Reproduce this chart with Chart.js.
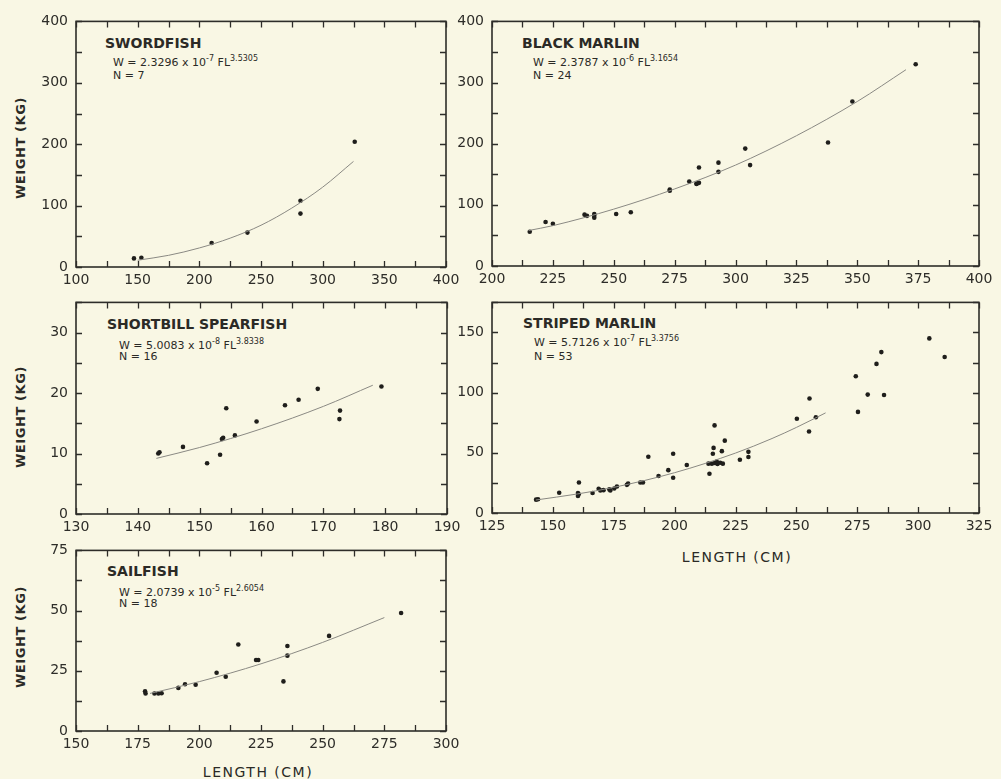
<!DOCTYPE html>
<html>
<head>
<meta charset="utf-8">
<script src="https://cdn.jsdelivr.net/npm/chart.js@4.4.0/dist/chart.umd.min.js"></script>
<style>
  body { margin: 0; background: #f9f7e4; width: 1001px; height: 779px; position: relative; overflow: hidden;
         font-family: "DejaVu Sans", sans-serif; color: #2b2a26; }
  canvas { position: absolute; }
  .title { position: absolute; font-weight: bold; font-size: 14px; line-height: 14px; white-space: nowrap; }
  .eq { position: absolute; font-size: 11px; line-height: 11px; white-space: nowrap; }
  .eq sup { font-size: 8px; vertical-align: 5px; line-height: 0; }
  .ylab { position: absolute; font-weight: bold; font-size: 13px; white-space: nowrap; letter-spacing: 0.6px;
          transform: translate(-50%, -50%) rotate(-90deg); }
  .xlab { position: absolute; font-size: 14px; white-space: nowrap; letter-spacing: 1.5px; transform: translate(-50%, -50%); }
</style>
</head>
<body>

<div class="title" style="left:105px; top:36px;">SWORDFISH</div>
<div class="eq" style="left:113px; top:57px;">W = 2.3296 x 10<sup>-7</sup> FL<sup>3.5305</sup></div>
<div class="eq" style="left:113px; top:70px;">N = 7</div>

<div class="title" style="left:522px; top:36px;">BLACK MARLIN</div>
<div class="eq" style="left:533px; top:57px;">W = 2.3787 x 10<sup>-6</sup> FL<sup>3.1654</sup></div>
<div class="eq" style="left:533px; top:70px;">N = 24</div>

<div class="title" style="left:107px; top:317px;">SHORTBILL SPEARFISH</div>
<div class="eq" style="left:119px; top:340px;">W = 5.0083 x 10<sup>-8</sup> FL<sup>3.8338</sup></div>
<div class="eq" style="left:119px; top:351px;">N = 16</div>

<div class="title" style="left:523px; top:316px;">STRIPED MARLIN</div>
<div class="eq" style="left:534px; top:337px;">W = 5.7126 x 10<sup>-7</sup> FL<sup>3.3756</sup></div>
<div class="eq" style="left:534px; top:351px;">N = 53</div>

<div class="title" style="left:107px; top:564px;">SAILFISH</div>
<div class="eq" style="left:119px; top:587px;">W = 2.0739 x 10<sup>-5</sup> FL<sup>2.6054</sup></div>
<div class="eq" style="left:119px; top:598px;">N = 18</div>

<div class="ylab" style="left:20px; top:148px;">WEIGHT (KG)</div>
<div class="ylab" style="left:20px; top:417px;">WEIGHT (KG)</div>
<div class="ylab" style="left:20px; top:637px;">WEIGHT (KG)</div>
<div class="xlab" style="left:737px; top:557px;">LENGTH (CM)</div>
<div class="xlab" style="left:258px; top:772px;">LENGTH (CM)</div>

<script>
// data: fork length (cm) vs weight (kg)
const swordLen = [147, 153, 210, 239, 282, 282, 326];
const swordWt = [14, 15, 39, 56, 108, 87, 204];
const swordFitLen = [150, 175, 200, 225, 250, 275, 300, 325];
const swordFitWt = [11, 19, 31, 47, 68, 96, 130, 172];

const blackLen = [215.5, 222, 225, 238, 239, 242, 242, 242, 251, 257, 273, 273, 281, 284, 284, 285, 285, 293, 293, 304, 306, 338, 348, 374];
const blackWt = [56, 72, 69, 84, 82, 85, 79, 82, 85, 88, 123, 125, 138, 135, 134, 136, 161, 169, 154, 192, 165, 202, 269, 330];
const blackFitLen = [215, 225, 250, 275, 300, 325, 350, 370];
const blackFitWt = [58, 66, 93, 126, 165, 213, 269, 321];

const spearLen = [143.3, 143.5, 147.3, 151.2, 153.3, 153.6, 153.8, 154.3, 155.7, 159.2, 163.8, 166.0, 169.1, 172.6, 172.7, 179.4];
const spearWt = [10.0, 10.2, 11.1, 8.4, 9.8, 12.4, 12.6, 17.5, 13.0, 15.3, 18.0, 18.9, 20.7, 15.7, 17.1, 21.1];
const spearFitLen = [143, 150, 160, 170, 178];
const spearFitWt = [9.2, 11.0, 14.1, 17.8, 21.3];

const stripedLen = [143.1, 143.9, 152.6, 160.7, 160.3, 160.3, 160.6, 166.3, 168.8, 169.5, 170.8, 173.2, 173.6, 175.2, 176.3,
  180.4, 180.9, 185.9, 187.0, 189.2, 193.4, 197.4, 199.4, 199.4, 205.0, 214.3, 213.9, 215.3, 216.0, 215.7, 216.4, 216.5,
  217.3, 217.6, 218.7, 219.4, 219.8, 220.6, 226.8, 230.3, 230.3, 250.2, 255.4, 255.2, 258.0, 274.4, 275.3, 279.3, 282.9,
  284.9, 286.0, 304.6, 310.9];
const stripedWt = [11.1, 11.4, 16.8, 25.3, 16.6, 14.1, 15.5, 16.6, 20.1, 18.8, 19.0, 19.6, 18.8, 20.4, 22.0,
  23.4, 24.5, 25.3, 25.3, 46.7, 30.7, 35.6, 49.2, 29.3, 39.9, 32.6, 41.0, 41.0, 54.1, 49.2, 72.8, 41.5,
  42.7, 40.8, 41.8, 51.4, 41.0, 60.1, 44.3, 50.8, 46.5, 78.3, 95.1, 67.7, 79.6, 113.6, 84.0, 98.4, 123.9,
  133.7, 98.1, 145.1, 129.6];
const stripedFitLen = [143, 160, 175, 200, 225, 240, 250, 262];
const stripedFitWt = [10.8, 15.8, 21.3, 33.5, 49.8, 61.9, 71.1, 83.2];

const sailLen = [178.0, 178.2, 181.8, 183.4, 184.7, 191.5, 194.2, 198.5, 207.0, 210.7, 215.8, 223.0, 223.9, 234.1, 235.7, 235.7, 252.6, 281.8];
const sailWt = [16.5, 15.6, 15.6, 15.6, 15.7, 17.9, 19.4, 19.2, 24.2, 22.5, 35.9, 29.5, 29.5, 20.6, 35.3, 31.3, 39.5, 49.0];
const sailFitLen = [180, 200, 225, 250, 275];
const sailFitWt = [15.6, 20.5, 27.9, 36.8, 47.1];

const ink = '#2e2d29';

// frame + inward ticks on all four sides
const frameTicks = {
  id: 'frameTicks',
  afterDraw(chart) {
    const ctx = chart.ctx, a = chart.chartArea;
    const xs = chart.scales.x, ys = chart.scales.y;
    ctx.save();
    ctx.strokeStyle = ink;
    ctx.lineWidth = 1.6;
    ctx.strokeRect(a.left, a.top, a.right - a.left, a.bottom - a.top);
    ctx.lineWidth = 1.3;
    ctx.beginPath();
    xs.ticks.forEach(t => {
      const px = Math.round(xs.getPixelForValue(t.value)) + 0.5;
      ctx.moveTo(px, a.bottom); ctx.lineTo(px, a.bottom - 6);
      ctx.moveTo(px, a.top); ctx.lineTo(px, a.top + 6);
    });
    ys.ticks.forEach(t => {
      const py = Math.round(ys.getPixelForValue(t.value)) + 0.5;
      ctx.moveTo(a.left, py); ctx.lineTo(a.left + 6, py);
      ctx.moveTo(a.right, py); ctx.lineTo(a.right - 6, py);
    });
    ctx.stroke();
    ctx.restore();
  }
};

function pts(xs, ys) {
  return xs.map((x, i) => ({ x: x, y: ys[i] }));
}

const padL = 70, padT = 12, padR = 20, padB = 28;

function makePanel(p) {
  const c = document.createElement('canvas');
  const w = p.right - p.left + padL + padR;
  const h = p.bottom - p.top + padT + padB;
  c.width = w; c.height = h;
  c.style.left = (p.left - padL) + 'px';
  c.style.top = (p.top - padT) + 'px';
  document.body.appendChild(c);

  const tickFont = { family: 'DejaVu Sans', size: 14 };
  new Chart(c, {
    type: 'scatter',
    data: {
      datasets: [
        {
          data: pts(p.fitX, p.fitY),
          showLine: true,
          borderColor: '#8a8983',
          borderWidth: 1,
          pointRadius: 0,
          cubicInterpolationMode: 'monotone'
        },
        {
          data: pts(p.x, p.y),
          backgroundColor: '#1f1e1b',
          borderColor: '#1f1e1b',
          pointRadius: 2.3,
          borderWidth: 0
        }
      ]
    },
    options: {
      responsive: false,
      animation: false,
      layout: { padding: { left: 0, top: padT, right: padR, bottom: 0 } },
      plugins: { legend: { display: false }, tooltip: { enabled: false } },
      scales: {
        x: {
          type: 'linear', min: p.xmin, max: p.xmax,
          grid: { display: false, drawTicks: false },
          border: { display: false },
          ticks: {
            stepSize: p.xstep, autoSkip: false, maxRotation: 0, padding: 5,
            color: ink, font: tickFont,
            callback: v => (v % p.xlab === 0 ? String(v) : '')
          },
          afterFit: s => { s.height = padB; }
        },
        y: {
          type: 'linear', min: p.ymin, max: p.ymax,
          grid: { display: false, drawTicks: false },
          border: { display: false },
          ticks: {
            stepSize: p.ystep, autoSkip: false, padding: 8,
            color: ink, font: tickFont,
            callback: v => (v % p.ylab === 0 ? String(v) : '')
          },
          afterFit: s => { s.width = padL; }
        }
      }
    },
    plugins: [frameTicks]
  });
}

const panels = [
  { left: 76, top: 17, right: 446, bottom: 267, xmin: 100, xmax: 400, xstep: 25, xlab: 50, ymin: 0, ymax: 400, ystep: 50, ylab: 100,
    x: swordLen, y: swordWt, fitX: swordFitLen, fitY: swordFitWt },
  { left: 492, top: 17, right: 979, bottom: 266, xmin: 200, xmax: 400, xstep: 12.5, xlab: 25, ymin: 0, ymax: 400, ystep: 50, ylab: 100,
    x: blackLen, y: blackWt, fitX: blackFitLen, fitY: blackFitWt },
  { left: 76, top: 298, right: 447, bottom: 514, xmin: 130, xmax: 190, xstep: 5, xlab: 10, ymin: 0, ymax: 35, ystep: 5, ylab: 10,
    x: spearLen, y: spearWt, fitX: spearFitLen, fitY: spearFitWt },
  { left: 492, top: 298, right: 979, bottom: 513, xmin: 125, xmax: 325, xstep: 12.5, xlab: 25, ymin: 0, ymax: 175, ystep: 25, ylab: 50,
    x: stripedLen, y: stripedWt, fitX: stripedFitLen, fitY: stripedFitWt },
  { left: 76, top: 546, right: 446, bottom: 731, xmin: 150, xmax: 300, xstep: 12.5, xlab: 25, ymin: 0, ymax: 75, ystep: 12.5, ylab: 25,
    x: sailLen, y: sailWt, fitX: sailFitLen, fitY: sailFitWt }
];

panels.forEach(makePanel);
</script>
</body>
</html>
